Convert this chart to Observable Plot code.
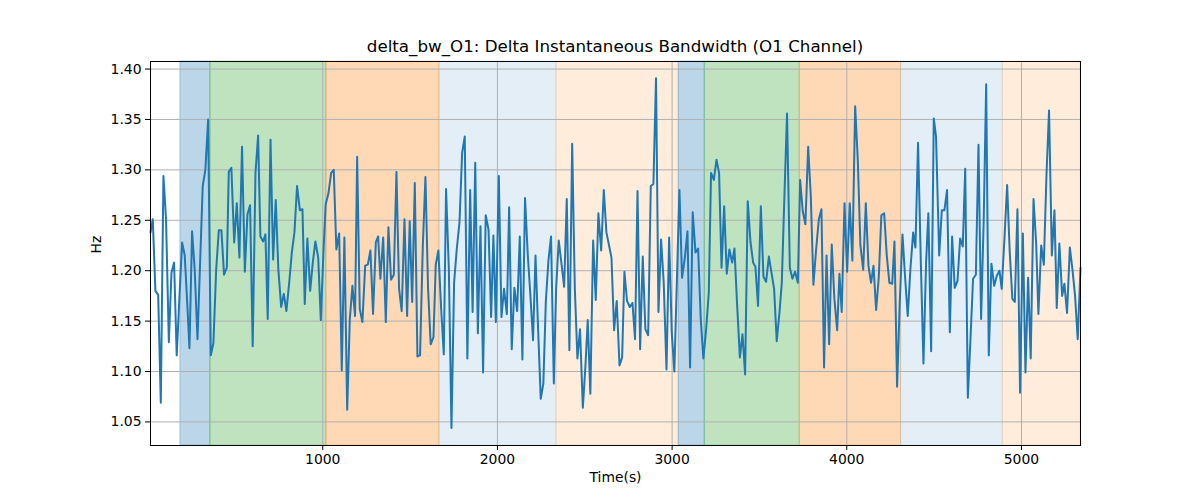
<!DOCTYPE html>
<html><head><meta charset="utf-8">
<script src="https://cdn.jsdelivr.net/npm/d3@7"></script>
<script src="https://cdn.jsdelivr.net/npm/@observablehq/plot@0.6"></script>
<style>
body{margin:0;background:#fff;font-family:"DejaVu Sans",sans-serif;}
#title{height:60px;width:1200px;position:relative;overflow:hidden;}
#title span{position:absolute;left:30px;width:1170px;text-align:center;top:36px;font-size:16.7px;line-height:20px;color:#000;}
</style></head><body>
<div id="title"><span>delta_bw_O1: Delta Instantaneous Bandwidth (O1 Channel)</span></div>
<div id="chart"></div>
<script>
const times = [14,27,42,58,73,88,103,119,134,149,164,180,195,210,224,237,252,267,283,298,313,328,344,359,374,390,405,420,435,451,462,477,493,508,523,538,554,569,584,599,615,630,
643,659,672,685,701,716,731,746,762,777,792,808,823,838,853,869,884,897,912,928,943,958,974,989,1004,1017,1033,1048,1063,1078,1094,1109,1124,1140,1155,1170,1185,1197,1212,1227,1243,1258,1273,1288,
1304,1317,1330,1346,1361,1376,1391,1407,1422,1437,1452,1468,1483,1498,1512,1527,1542,1557,1573,1588,1603,1618,1634,1647,1662,1678,1693,1706,1722,1737,1752,1767,1783,1798,1813,1828,1844,1858,1873,1888,1903,1918,1933,1949,1964,
1977,1991,2008,2023,2038,2054,2067,2082,2097,2113,2128,2143,2158,2174,2189,2204,2218,2233,2248,2263,2277,2292,2307,2323,2336,2351,2366,2382,2397,2412,2428,2443,2458,2473,2489,2504,2517,2532,2548,2563,2578,2594,2609,2624,
2638,2653,2668,2683,2699,2714,2727,2742,2758,2773,2788,2802,2817,2832,2847,2863,2878,2893,2908,2922,2937,2952,2968,2983,2998,3013,3027,3042,3057,3073,3088,3103,3118,3134,3149,3164,3179,3195,3210,3223,3239,3254,3269,
3283,3298,3313,3328,3344,3357,3372,3388,3403,3418,3433,3449,3464,3477,3492,3508,3523,3538,3554,3569,3584,3599,3615,3628,3643,3658,3674,3689,3704,3720,3733,3748,3763,3779,3794,3809,3824,3840,3855,3870,3884,3899,3914,3929,3945,
3958,3971,3987,4002,4017,4032,4048,4063,4078,4094,4109,4124,4139,4153,4168,4183,4198,4214,4229,4244,4260,4273,4288,4303,4319,4334,4349,4364,4380,4393,4408,4424,4439,4454,4467,4483,4498,4511,4529,4544,4559,4574,4590,
4603,4618,4634,4649,4664,4678,4693,4708,4723,4739,4754,4769,4784,4798,4813,4828,4844,4859,4874,4887,4903,4918,4933,4948,4962,4977,4992,5008,5023,5038,5053,5069,5084,5097,5113,5128,5143,5158,5174,5189,5202,5217,5233,5246,5261,5277,5292,5307,5322,5338];

const values = [1.238,1.251,1.180,1.176,1.069,1.294,1.251,1.129,1.198,1.208,1.116,1.175,1.228,1.215,1.169,1.123,1.239,1.201,1.132,1.208,1.284,1.300,1.350,1.116,1.128,1.201,1.240,1.240,1.196,1.203,1.298,1.302,1.228,1.267,1.213,1.323,1.199,1.256,1.265,1.125,1.297,1.334,
1.234,1.229,1.236,1.152,1.330,1.211,1.270,1.201,1.164,1.177,1.160,1.188,1.218,1.238,1.284,1.260,1.261,1.167,1.232,1.180,1.208,1.229,1.213,1.151,1.218,1.266,1.277,1.297,1.300,1.221,1.237,1.101,1.233,1.062,1.152,1.185,1.155,1.313,1.162,1.149,1.205,1.206,1.220,1.157,
1.228,1.234,1.192,1.233,1.149,1.243,1.191,1.196,1.298,1.182,1.160,1.251,1.155,1.249,1.169,1.287,1.115,1.116,1.225,1.293,1.182,1.127,1.134,1.206,1.220,1.162,1.117,1.281,1.201,1.044,1.188,1.221,1.248,1.317,1.333,1.113,1.280,1.159,1.307,1.138,1.244,1.099,1.255,1.241,1.154,
1.235,1.149,1.294,1.154,1.182,1.157,1.263,1.122,1.183,1.160,1.234,1.112,1.272,1.215,1.175,1.131,1.215,1.142,1.073,1.088,1.169,1.210,1.234,1.088,1.182,1.230,1.208,1.184,1.271,1.121,1.326,1.183,1.113,1.142,1.064,1.106,1.151,1.078,1.230,1.171,1.257,1.220,1.280,1.238,
1.226,1.213,1.141,1.170,1.106,1.114,1.199,1.170,1.164,1.168,1.132,1.279,1.122,1.214,1.142,1.136,1.284,1.286,1.391,1.159,1.231,1.188,1.102,1.233,1.139,1.100,1.188,1.280,1.193,1.213,1.239,1.104,1.258,1.218,1.222,1.152,1.113,1.142,1.178,1.297,1.290,1.310,1.297,
1.203,1.264,1.197,1.221,1.208,1.222,1.167,1.114,1.137,1.097,1.269,1.228,1.208,1.204,1.165,1.264,1.194,1.189,1.214,1.198,1.182,1.130,1.159,1.188,1.274,1.356,1.203,1.192,1.199,1.188,1.290,1.259,1.246,1.323,1.274,1.186,1.220,1.251,1.261,1.104,1.215,1.127,1.226,1.172,1.141,
1.197,1.159,1.267,1.199,1.267,1.210,1.363,1.310,1.225,1.201,1.267,1.205,1.188,1.205,1.161,1.193,1.255,1.257,1.215,1.188,1.187,1.229,1.085,1.167,1.236,1.193,1.155,1.201,1.238,1.223,1.327,1.208,1.108,1.208,1.257,1.120,1.351,1.333,1.215,1.260,1.260,1.280,1.139,
1.234,1.183,1.190,1.232,1.224,1.301,1.074,1.132,1.192,1.196,1.325,1.152,1.251,1.385,1.116,1.207,1.185,1.195,1.200,1.182,1.233,1.285,1.218,1.172,1.169,1.261,1.079,1.237,1.099,1.193,1.113,1.271,1.228,1.157,1.225,1.206,1.294,1.359,1.215,1.260,1.163,1.227,1.175,1.187,1.158,1.223,1.201,1.175,1.132,1.203];

// shaded phases
const phaseStart = [185, 357, 1021, 1668, 2338, 3038, 3187, 3731, 4311, 4893];
const phaseEnd   = [357, 1021, 1668, 2338, 3038, 3187, 3731, 4311, 4893, 5338];
const phaseKind  = ["blue", "green", "orange", "lightblue", "lightorange", "blue", "green", "orange", "lightblue", "lightorange"];

const xTicks = [1000, 2000, 3000, 4000, 5000];
const yTicks = [1.05, 1.10, 1.15, 1.20, 1.25, 1.30, 1.35, 1.40];

const kindStyle = {
  blue: {c: "#1f77b4", a: 0.3},
  green: {c: "#2ca02c", a: 0.3},
  orange: {c: "#ff7f0e", a: 0.3},
  lightblue: {c: "#1f77b4", a: 0.12},
  lightorange: {c: "#ff7f0e", a: 0.15}
};

const series = times.map((t, i) => ({t, v: values[i]}));
const phases = phaseStart.map((s, i) => ({
  s, e: phaseEnd[i],
  color: kindStyle[phaseKind[i]].c,
  alpha: kindStyle[phaseKind[i]].a
}));

const chart = Plot.plot({
  width: 1200,
  height: 440,
  marginTop: 1,
  marginBottom: 55,
  marginLeft: 150,
  marginRight: 120,
  style: {fontFamily: "DejaVu Sans", fontSize: "13.9px", color: "black", background: "white"},
  x: {domain: [times[0], times[times.length - 1]]},
  y: {domain: [1.0266, 1.4075]},
  marks: [
    Plot.rect(phases, {x1: "s", x2: "e", fill: d => d.color, fillOpacity: d => d.alpha,
      stroke: d => d.color, strokeOpacity: d => d.alpha, strokeWidth: 1}),
    Plot.gridX(xTicks, {stroke: "#b0b0b0", strokeOpacity: 1, strokeWidth: 1}),
    Plot.gridY(yTicks, {stroke: "#b0b0b0", strokeOpacity: 1, strokeWidth: 1}),
    Plot.line(series, {x: "t", y: "v", stroke: "#1f77b4", strokeWidth: 2}),
    Plot.frame({stroke: "black", strokeWidth: 1}),
    Plot.axisX({ticks: xTicks, tickSize: 5, tickPadding: 4, tickFormat: d3.format("d"), label: null, fontSize: 13.9}),
    Plot.axisY({ticks: yTicks, tickSize: 5, tickPadding: 4, tickFormat: d3.format(".2f"), label: null, fontSize: 13.9}),
    Plot.text(["Time(s)"], {frameAnchor: "bottom", dy: 36, fontSize: 13.9, fill: "black"}),
    Plot.text(["Hz"], {frameAnchor: "left", dx: -54, rotate: -90, fontSize: 13.9, fill: "black"})
  ]
});
document.getElementById("chart").appendChild(chart);
</script></body></html>
